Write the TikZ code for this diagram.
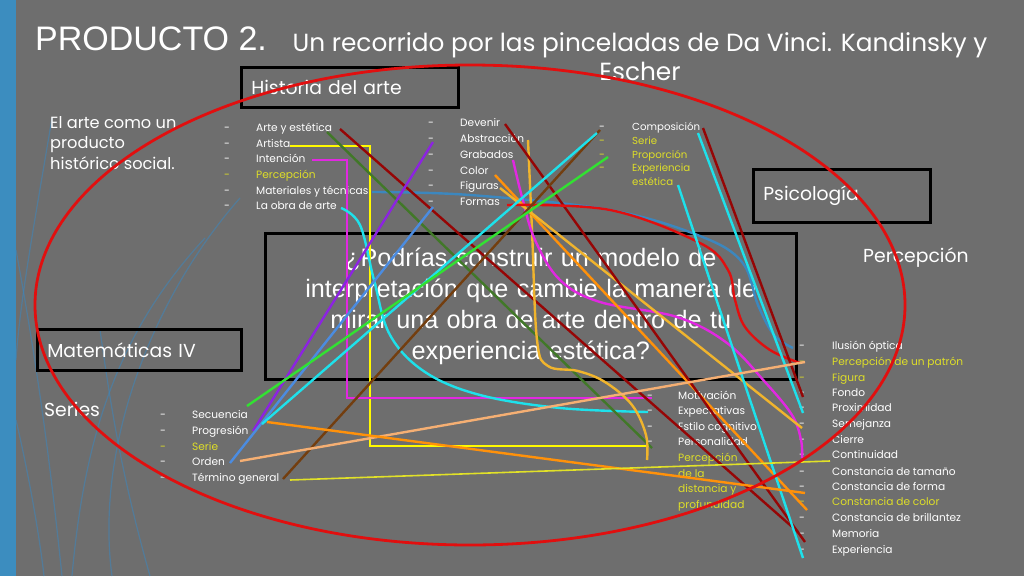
\documentclass[tikz,border=0pt]{standalone}
\usepackage{fontspec}
\setmainfont{Poppins}
\newfontfamily\arialf{Liberation Sans}
\definecolor{bg}{RGB}{110,110,110}
\definecolor{bar}{RGB}{60,141,191}
\definecolor{ellred}{RGB}{225,15,15}
\definecolor{dred}{RGB}{150,5,5}
\definecolor{yel}{RGB}{255,250,0}
\definecolor{ytxt}{RGB}{222,222,40}
\definecolor{mag}{RGB}{225,40,225}
\definecolor{cya}{RGB}{30,225,235}
\definecolor{steel}{RGB}{60,135,190}
\definecolor{purp}{RGB}{140,35,225}
\definecolor{cflow}{RGB}{75,140,225}
\definecolor{bgreen}{RGB}{50,225,50}
\definecolor{dgreen}{RGB}{65,120,40}
\definecolor{brn}{RGB}{115,62,15}
\definecolor{gold}{RGB}{240,180,45}
\definecolor{orng}{RGB}{255,145,10}
\definecolor{peach}{RGB}{245,175,115}
\definecolor{ythin}{RGB}{225,225,40}
\begin{document}
\begin{tikzpicture}[x=1pt,y=-1pt,
  ln/.style={line width=2.4pt},
  thinln/.style={line width=1.6pt},
  deco/.style={line width=1.2pt, draw=steel, opacity=0.55},
  boxn/.style={draw=black, line width=2.6pt, anchor=north west, align=left, text=white, inner ysep=0pt},
  head/.style={font=\fontsize{18.8}{22}\selectfont},
  li/.style={anchor=mid west, inner sep=0pt, text=white, font=\fontsize{10.6}{12}\selectfont},
  liy/.style={li, text=ytxt},
  ds/.style={anchor=mid, inner sep=0pt, text=white, font=\fontsize{10.6}{12}\selectfont},
  dsy/.style={ds, text=ytxt}
]
\useasboundingbox (0,0) rectangle (1024,576);
\fill[bg] (0,0) rectangle (1024,576);
\fill[bar] (0,0) rectangle (16,576);
% faint decorative curves
\draw[deco] (52,118) .. controls (35,220) and (20,300) .. (16,360);
\draw[deco] (16,250) .. controls (40,380) and (52,480) .. (62,576);
\draw[deco] (16,420) .. controls (30,480) and (40,540) .. (44,576);
\draw[deco] (112,576) .. controls (95,450) and (150,300) .. (240,198);
\draw[deco] (72,576) .. controls (85,430) and (120,330) .. (205,238);
\draw[deco] (150,576) .. controls (120,470) and (110,400) .. (100,330);

% titles
\node[anchor=base west, inner sep=0pt, text=white, font=\arialf\fontsize{34}{36}\selectfont] (title) at (35,50) {PRODUCTO 2.};
\node[anchor=center, inner sep=0pt, text=white, align=center, font=\fontsize{24.8}{29}\selectfont] (sub) at (640,57) {Un recorrido por las pinceladas de Da Vinci. Kandinsky y\\Escher};

% boxes
\node[boxn, head, minimum width=217pt, minimum height=40pt, text width=197pt, inner xsep=10pt] (hist) at (240,66) {Historia del arte};
\node[boxn, head, minimum width=177pt, minimum height=53pt, text width=157pt, inner xsep=10pt] (psico) at (752,168) {Psicología};
\node[boxn, head, minimum width=204pt, minimum height=41pt, text width=184pt, inner xsep=10pt] (mate) at (36,328) {Matemáticas IV};
\node[boxn, minimum width=531pt, minimum height=146pt, text width=511pt, inner xsep=10pt, align=center, font=\arialf\fontsize{25.2}{30.8}\selectfont] (pregunta) at (264,232) {¿Podrías construir un modelo de\\interpretación que cambie la manera de\\mirar una obra de arte dentro de tu\\experiencia estética?};

% free texts
\node[anchor=north west, inner sep=0pt, text=white, align=left, font=\fontsize{16.2}{20.5}\selectfont] (social) at (50,116) {El arte como un\\producto\\histórico social.};
\node[anchor=mid west, inner sep=0pt, text=white, head] (percep) at (863,260) {Percepción};
\node[anchor=mid west, inner sep=0pt, text=white, head] (series) at (44,414) {Series};

% list 1
\foreach \t/\y/\s [count=\i] in {Arte y estética/129/li, Artista/145/li, Intención/160/li, Percepción/176/liy, Materiales y técnicas/192/li, La obra de arte/207/li}{
  \node[\s] (la\i) at (256,\y) {\t};
}
\foreach \y/\s [count=\i] in {129/ds,145/ds,160/ds,176/dsy,192/ds,207/ds}{\node[\s] (lad\i) at (227,\y) {-};}
% list 2
\foreach \t/\y [count=\i] in {Devenir/124, Abstracción/140, Grabados/156, Color/172, Figuras/187, Formas/203}{
  \node[li] (lb\i) at (460,\y) {\t};
  \node[ds] (lbd\i) at (431,\y) {-};
}
% list 3
\node[li, font=\fontsize{10.2}{11}\selectfont] (lc1) at (632,128) {Composición};
\node[liy, font=\fontsize{10.2}{11}\selectfont] (lc2) at (632,142) {Serie};
\node[liy, font=\fontsize{10.2}{11}\selectfont] (lc3) at (632,156) {Proporción};
\node[liy, font=\fontsize{10.2}{11}\selectfont] (lc4) at (632,169) {Experiencia};
\node[liy, font=\fontsize{10.2}{11}\selectfont] (lc5) at (632,183) {estética};
\foreach \y/\s [count=\i] in {128/ds,142/dsy,156/dsy,169/dsy}{\node[\s] (lcd\i) at (602,\y) {-};}
% list 4
\foreach \t/\y/\s [count=\i] in {Secuencia/416/li, Progresión/432/li, Serie/448/liy, Orden/463/li, Término general/479/li}{
  \node[\s] (ld\i) at (192,\y) {\t};
}
\foreach \y/\s [count=\i] in {416/ds,432/ds,448/dsy,463/ds,479/ds}{\node[\s] (ldd\i) at (163,\y) {-};}
% list 5
\foreach \t/\y/\s [count=\i] in {Motivación/397/li, Expectativas/412/li, Estilo cognitivo/428/li, Personalidad/443/li, Percepción/459/liy, de la/475/liy, distancia y/490/liy, profundidad/506/liy}{
  \node[\s] (le\i) at (678,\y) {\t};
}
\foreach \y [count=\i] in {397,412,428,443}{\node[ds] (led\i) at (650,\y) {-};}
% list 6
\foreach \t/\y/\s [count=\i] in {Ilusión óptica/347/li, Percepción de un patrón/363/liy, Figura/379/liy, Fondo/394/li, Proximidad/409/li, Semejanza/425/li, Cierre/441/li, Continuidad/456/li, Constancia de tamaño/473/li, Constancia de forma/488/li, Constancia de color/503/liy, Constancia de brillantez/519/li, Memoria/535/li, Experiencia/551/li}{
  \node[\s] (lf\i) at (832,\y) {\t};
}
\foreach \y/\s [count=\i] in {347/ds,363/dsy,379/dsy,394/ds,409/ds,425/ds,441/ds,456/ds,473/ds,488/ds,503/dsy,519/ds,535/ds,551/ds}{\node[\s] (lfd\i) at (802,\y) {-};}

% connector end points
\coordinate (yA) at (290,146); \coordinate (yB) at (370,146); \coordinate (yC) at (370,446); \coordinate (yD) at (650,446);
\coordinate (mA) at (312,160); \coordinate (mB) at (347,160); \coordinate (mC) at (347,398); \coordinate (mD) at (652,398);
\coordinate (cA) at (341,208); \coordinate (cZ) at (648,412);
\coordinate (sA) at (372,192); \coordinate (sZ) at (793,348);
\coordinate (pA) at (433,142); \coordinate (pZ) at (253,431);
\coordinate (bA) at (433,207); \coordinate (bZ) at (230,463);
\coordinate (gA) at (608,157); \coordinate (gZ) at (247,406);
\coordinate (c2A) at (597,133); \coordinate (c2Z) at (262,424);
\coordinate (brA) at (600,130); \coordinate (brZ) at (283,479);
\coordinate (r1A) at (340,129); \coordinate (r1Z) at (798,532);
\coordinate (r2A) at (505,124); \coordinate (r2Z) at (805,542);
\coordinate (r3A) at (703,128); \coordinate (r3Z) at (803,397);
\coordinate (rcA) at (507,205); \coordinate (rcZ) at (800,363);
\coordinate (c3A) at (698,133); \coordinate (c3Z) at (803,413);
\coordinate (c4A) at (678,185); \coordinate (c4Z) at (803,558);
\coordinate (peA) at (240,461); \coordinate (peZ) at (805,362);
\coordinate (orA) at (267,422); \coordinate (orZ) at (805,493);
\coordinate (oA) at (495,175); \coordinate (oZ) at (807,510);
\coordinate (goA) at (500,188); \coordinate (goZ) at (802,428);
\coordinate (gcA) at (528,140); \coordinate (gcZ) at (647,460);
\coordinate (mcA) at (513,160); \coordinate (mcZ) at (802,458);
\coordinate (dgA) at (327,132); \coordinate (dgZ) at (652,448);
\coordinate (ytA) at (290,480); \coordinate (ytZ) at (830,461);

% connectors
\draw[ln, yel] (yA) -- (yB) -- (yC) -- (yD);
\draw[ln, mag] (mA) -- (mB) -- (mC) -- (mD);
\draw[ln, cya] plot[smooth, tension=0.6] coordinates {(cA) (360,225) (374,280) (390,335) (425,372) (480,395) (560,408) (cZ)};
\draw[ln, steel] plot[smooth, tension=0.6] coordinates {(sA) (470,195) (610,210) (700,236) (742,262) (758,305) (774,335) (sZ)};
\draw[ln, dgreen] (dgA) -- (dgZ);
\draw[ln, dred] (r1A) -- (r1Z);
\draw[ln, purp] (pA) -- (pZ);
\draw[ln, cflow] (bA) -- (bZ);
\draw[ln, gold] plot[smooth, tension=0.6] coordinates {(gcA) (532,230) (537,340) (548,366) (578,371) (605,382) (632,405) (646,435) (gcZ)};
\draw[ln, mag] plot[smooth, tension=0.6] coordinates {(mcA) (522,197) (535,240) (560,280) (600,302) (677,317) (727,343) (765,382) (792,415) (801,440) (mcZ)};
\draw[ln, orng] (oA) -- (oZ);
\draw[ln, gold] (goA) -- (goZ);
\draw[ln, dred] (r2A) -- (r2Z);
\draw[ln, ellred] plot[smooth, tension=0.6] coordinates {(rcA) (610,210) (700,243) (728,270) (735,300) (745,327) (770,350) (rcZ)};
\draw[ln, brn] (brA) -- (brZ);
\draw[ln, cya] (c2A) -- (c2Z);
\draw[ln, bgreen] (gA) -- (gZ);
\draw[ln, dred] (r3A) -- (r3Z);
\draw[ln, cya] (c3A) -- (c3Z);
\draw[ln, cya] (c4A) -- (c4Z);
\draw[ln, peach] (peA) -- (peZ);
\draw[ln, orng] (orA) -- (orZ);
\draw[thinln, ythin] (ytA) -- (ytZ);

% big red ellipse
\draw[line width=2.8pt, ellred] (470,305) ellipse [x radius=435, y radius=240];
\end{tikzpicture}
\end{document}
